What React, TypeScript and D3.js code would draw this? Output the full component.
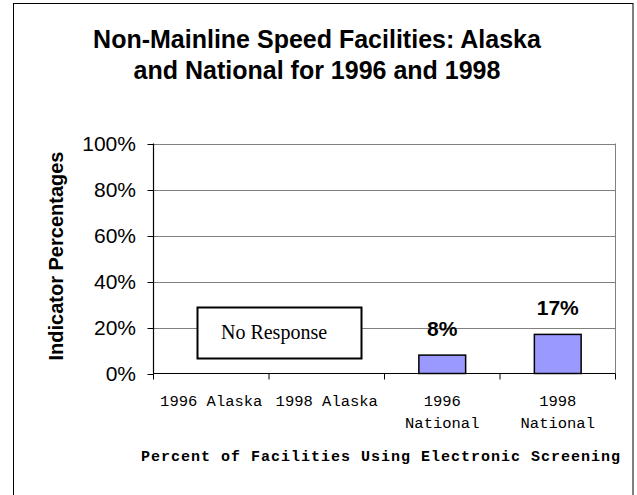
import React from "react";
import * as d3 from "d3";

const categories = ["1996 Alaska", "1998 Alaska", "1996 National", "1998 National"];
const categoryLines = [["1996 Alaska"], ["1998 Alaska"], ["1996", "National"], ["1998", "National"]];
const values: (number | null)[] = [null, null, 8, 17];
const valueLabels = ["", "", "8%", "17%"];
const yTicks = [0, 20, 40, 60, 80, 100];
const titleLines = ["Non-Mainline Speed Facilities: Alaska", "and National for 1996 and 1998"];
const yTitle = "Indicator Percentages";
const xTitle = "Percent of Facilities Using Electronic Screening";
const noteText = "No Response";

export default function App() {
  const W = 637, H = 495;
  const left = 153.5, right = 615.5, top = 143.5, bottom = 373.5;
  const x = d3.scaleBand<string>().domain(categories).range([left, right]).paddingInner(0).paddingOuter(0);
  const y = d3.scaleLinear().domain([0, 100]).range([bottom, top]);
  const bw = x.bandwidth();
  const barW = bw * 0.405;
  const mono = "'Liberation Mono', 'Courier New', monospace";
  const sans = "'Liberation Sans', Arial, sans-serif";
  const serif = "'Liberation Serif', 'Times New Roman', serif";

  return (
    <svg width={W} height={H} style={{ position: "absolute", left: 0, top: 0 }}>
      <rect x={0} y={0} width={W} height={H} fill="#fff" />
      <rect x={13.5} y={3.5} width={619.5} height={500} fill="#fff" stroke="#000" strokeWidth={1} />
      {titleLines.map((t, i) => (
        <text key={i} x={317} y={48 + i * 31} textAnchor="middle" fontFamily={sans} fontWeight="bold" fontSize={25} fill="#000">
          {t}
        </text>
      ))}
      {/* gridlines */}
      {yTicks.filter((t) => t > 0).map((t) => (
        <line key={t} x1={left} x2={right} y1={Math.round(y(t)) + 0.5} y2={Math.round(y(t)) + 0.5} stroke="#808080" strokeWidth={1} />
      ))}
      <line x1={right} x2={right} y1={top} y2={bottom} stroke="#808080" strokeWidth={1} />
      {/* y ticks */}
      {yTicks.map((t) => (
        <g key={t}>
          <line x1={left - 6} x2={left} y1={Math.round(y(t)) + 0.5} y2={Math.round(y(t)) + 0.5} stroke="#000" strokeWidth={1} />
          <text x={136} y={y(t) + 7.5} textAnchor="end" fontFamily={sans} fontSize={21} fill="#000">
            {t}%
          </text>
        </g>
      ))}
      {/* bars */}
      {categories.map((c, i) =>
        values[i] == null ? null : (
          <g key={c}>
            <rect
              x={(x(c) as number) + (bw - barW) / 2}
              y={y(values[i] as number)}
              width={barW}
              height={bottom - y(values[i] as number)}
              fill="#9999FF"
              stroke="#000"
              strokeWidth={1.5}
            />
            <text
              x={(x(c) as number) + bw / 2}
              y={y(values[i] as number) - 19}
              textAnchor="middle"
              fontFamily={sans}
              fontWeight="bold"
              fontSize={21}
              fill="#000"
            >
              {valueLabels[i]}
            </text>
          </g>
        )
      )}
      {/* axes */}
      <line x1={left} x2={left} y1={top} y2={bottom} stroke="#000" strokeWidth={1.2} />
      <line x1={left} x2={right} y1={bottom} y2={bottom} stroke="#000" strokeWidth={1.2} />
      {categories.map((c) => (
        <line key={c} x1={(x(c) as number)} x2={(x(c) as number)} y1={bottom} y2={bottom + 6} stroke="#000" strokeWidth={1} />
      ))}
      <line x1={right} x2={right} y1={bottom} y2={bottom + 6} stroke="#000" strokeWidth={1} />
      {/* no response box */}
      <rect x={197.5} y={307.5} width={164} height={51} fill="#fff" stroke="#000" strokeWidth={2} />
      <text x={274} y={338.5} textAnchor="middle" fontFamily={serif} fontSize={20} fill="#000">
        {noteText}
      </text>
      {/* x labels */}
      {categories.map((c, i) =>
        categoryLines[i].map((ln, j) => (
          <text
            key={c + j}
            x={(x(c) as number) + bw / 2}
            y={406 + j * 22}
            textAnchor="middle"
            fontFamily={mono}
            fontSize={15.5}
            fill="#000"
          >
            {ln}
          </text>
        ))
      )}
      <text
        x={141}
        y={461}
        textLength={479}
        lengthAdjust="spacing"
        fontFamily={mono}
        fontWeight="bold"
        fontSize={15}
        fill="#000"
      >
        {xTitle}
      </text>
      <text
        transform={`translate(63, 256) rotate(-90)`}
        textAnchor="middle"
        fontFamily={sans}
        fontWeight="bold"
        fontSize={20}
        fill="#000"
      >
        {yTitle}
      </text>
    </svg>
  );
}
